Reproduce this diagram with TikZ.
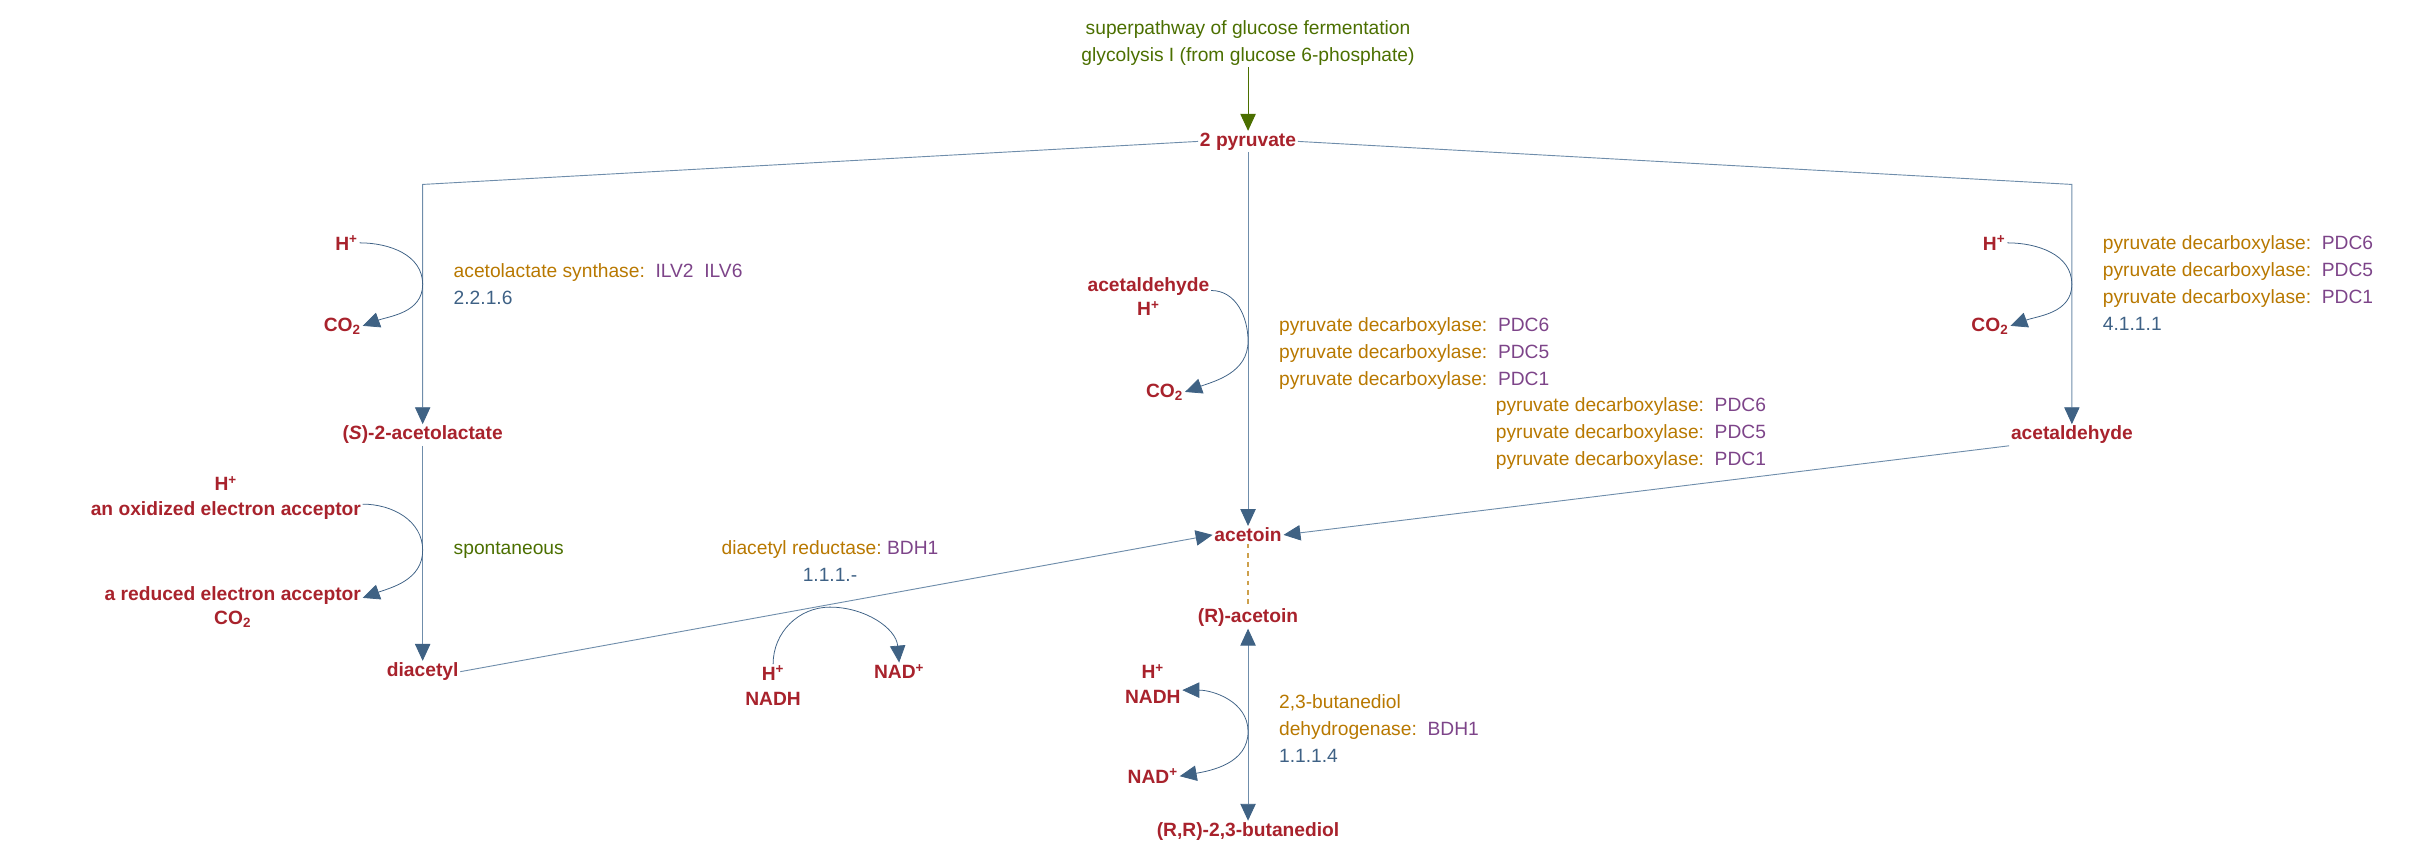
\documentclass[tikz,border=0pt]{standalone}
\usepackage{fontspec}
\setmainfont{Liberation Sans}
\usetikzlibrary{arrows.meta,positioning}
\definecolor{metred}{HTML}{A8222C}
\definecolor{enzor}{HTML}{B87800}
\definecolor{genepu}{HTML}{7D4489}
\definecolor{ecblue}{HTML}{3E6185}
\definecolor{pwgreen}{HTML}{4B6F00}
\definecolor{lineblue}{HTML}{6F8DAB}
\definecolor{tipblue}{HTML}{3F6284}
\tikzset{
  met/.style={font=\fontsize{12.5}{16}\selectfont\bfseries, text=metred, inner sep=1pt, align=center},
  txt/.style={font=\fontsize{12.5}{17.5}\selectfont, inner sep=1pt, align=left},
  tip/.style={Triangle[length=11pt,width=10pt,color=tipblue]},
  rxn/.style={draw=lineblue, line width=0.6pt, -{Triangle[length=11pt,width=10pt,color=tipblue]}},
  side/.style={draw=ecblue, line width=0.5pt},
}
\newcommand{\pdc}[1]{\textcolor{enzor}{pyruvate decarboxylase:}\ \ \textcolor{genepu}{#1}}
\begin{document}
\begin{tikzpicture}[x=1pt,y=-1pt]
\useasboundingbox (0,0) rectangle (1568,554);

% pathway entry
\node[txt, text=pwgreen, align=center] (pw) at (812,28) {superpathway of glucose fermentation\\glycolysis I (from glucose 6-phosphate)};
\node[met] (pyr) at (812,92) {2 pyruvate};
\draw[draw=pwgreen, line width=0.6pt, -{Triangle[length=11pt,width=10pt,color=pwgreen]}] (pw) -- (pyr);

% metabolites
\node[met] (acl) at (275,283) {(\textit{S})-2-acetolactate};
\node[met] (dia) at (275,437) {diacetyl};
\node[met] (acd) at (1348,283) {acetaldehyde};
\node[met] (act) at (812,348) {acetoin};
\node[met] (ract) at (812,402) {(R)-acetoin};
\node[met] (btd) at (812,541) {(R,R)-2,3-butanediol};

% left branch
\coordinate (lk) at (275,120);
\draw[rxn] (pyr.west) -- (lk) -- (acl);
\node[met, anchor=east] (h1) at (234,158) {H\textsuperscript{+}};
\node[met, anchor=east] (co1) at (236,212) {CO\textsubscript{2}};
\coordinate (l1) at (275,185);
\draw[side] (h1.east) to[out=0,in=90] (l1);
\draw[side, -{Triangle[length=11pt,width=10pt,color=tipblue]}] (l1) to[out=-90,in=20] (co1.east);
\node[txt, anchor=west] (e1) at (294,185) {\textcolor{enzor}{acetolactate synthase:}\ \ \textcolor{genepu}{ILV2\ \ ILV6}\\\textcolor{ecblue}{2.2.1.6}};

\draw[rxn] (acl) -- (dia);
\node[met, anchor=east] (ox) at (236,324) {H\textsuperscript{+}\\an oxidized electron acceptor};
\node[met, anchor=east] (red) at (236,395) {a reduced electron acceptor\\CO\textsubscript{2}};
\coordinate (l2) at (275,358);
\draw[side] ([yshift=-4pt]ox.east) to[out=0,in=90] (l2);
\draw[side, -{Triangle[length=11pt,width=10pt,color=tipblue]}] (l2) to[out=-90,in=20] ([yshift=6pt]red.east);
\node[txt, anchor=west, text=pwgreen] (e2) at (294,358) {spontaneous};

% diacetyl to acetoin
\draw[rxn] (dia.east) -- (act.west);
\node[txt, align=center] (e3) at (540,365) {\textcolor{enzor}{diacetyl reductase:}\ \textcolor{genepu}{BDH1}\\\textcolor{ecblue}{1.1.1.-}};
\node[met] (h3) at (503,446) {H\textsuperscript{+}\\NADH};
\node[met] (nad3) at (585,437) {NAD\textsuperscript{+}};
\coordinate (l3) at (540,395);
\draw[side] (h3.north) to[out=90,in=180] (l3);
\draw[side, -{Triangle[length=11pt,width=10pt,color=tipblue]}] (l3) to[out=0,in=95] (nad3.north);

% middle branch
\draw[rxn] (pyr) -- (act);
\node[met, anchor=east] (acd2) at (788,193) {acetaldehyde\\H\textsuperscript{+}};
\node[met, anchor=east] (co2) at (771,255) {CO\textsubscript{2}};
\coordinate (l4) at (812,222);
\draw[side] ([yshift=4pt]acd2.east) to[out=0,in=90] (l4);
\draw[side, -{Triangle[length=11pt,width=10pt,color=tipblue]}] (l4) to[out=-90,in=20] (co2.east);
\node[txt, anchor=west] (e4) at (831,230) {\pdc{PDC6}\\\pdc{PDC5}\\\pdc{PDC1}};

% right branch
\coordinate (rk) at (1348,120);
\draw[rxn] (pyr.east) -- (rk) -- (acd);
\node[met, anchor=east] (h5) at (1306,158) {H\textsuperscript{+}};
\node[met, anchor=east] (co5) at (1308,212) {CO\textsubscript{2}};
\coordinate (l5) at (1348,185);
\draw[side] (h5.east) to[out=0,in=90] (l5);
\draw[side, -{Triangle[length=11pt,width=10pt,color=tipblue]}] (l5) to[out=-90,in=20] (co5.east);
\node[txt, anchor=west] (e5) at (1367,184) {\pdc{PDC6}\\\pdc{PDC5}\\\pdc{PDC1}\\\textcolor{ecblue}{4.1.1.1}};

% acetaldehyde to acetoin
\draw[rxn] (acd.south west) -- (act.east);
\node[txt, anchor=west] (e6) at (972,282) {\pdc{PDC6}\\\pdc{PDC5}\\\pdc{PDC1}};

% acetoin forms
\draw[draw=enzor!70, line width=0.8pt, dashed] (act) -- (ract);
\draw[rxn, {Triangle[length=11pt,width=10pt,color=tipblue]}-{Triangle[length=11pt,width=10pt,color=tipblue]}] (ract) -- (btd);
\node[met] (h7) at (750,445) {H\textsuperscript{+}\\NADH};
\node[met] (nad7) at (750,505) {NAD\textsuperscript{+}};
\coordinate (l7) at (812,476);
\draw[side, {Triangle[length=11pt,width=10pt,color=tipblue]}-] ([yshift=-4pt]h7.east) to[out=0,in=90] (l7);
\draw[side, -{Triangle[length=11pt,width=10pt,color=tipblue]}] (l7) to[out=-90,in=10] (nad7.east);
\node[txt, anchor=west] (e7) at (831,474) {\textcolor{enzor}{2,3-butanediol}\\\textcolor{enzor}{dehydrogenase:}\ \ \textcolor{genepu}{BDH1}\\\textcolor{ecblue}{1.1.1.4}};
\end{tikzpicture}
\end{document}
